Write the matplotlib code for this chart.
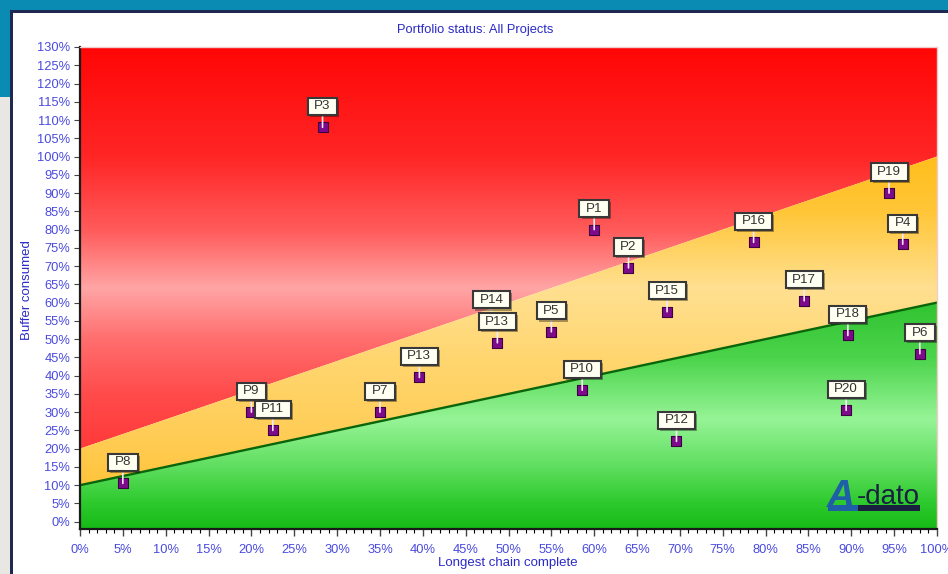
import numpy as np
import matplotlib
matplotlib.use("Agg")
import matplotlib.pyplot as plt
from matplotlib.patches import Rectangle
from matplotlib.path import Path
import matplotlib.patheffects as pe

plt.rcParams["font.family"] = ["Liberation Sans", "DejaVu Sans"]

W, H, DPI = 948, 574, 100

# Projects: longest chain complete (%) vs buffer consumed (%)
projects = ["P8", "P9", "P11", "P3", "P7", "P13", "P14", "P13", "P5", "P10",
            "P1", "P2", "P15", "P12", "P16", "P17", "P18", "P20", "P19", "P4", "P6"]
chain_done = [5.0, 20.0, 22.5, 28.3, 35.0, 39.6, 48.0, 48.7, 55.0, 58.6,
              60.0, 64.0, 68.5, 69.6, 78.6, 84.5, 89.6, 89.4, 94.4, 96.0, 98.0]
buffer_used = [10.5, 30.0, 25.0, 108.0, 30.0, 39.5, 55.0, 49.0, 52.0, 36.0,
               80.0, 69.5, 57.5, 22.0, 76.5, 60.5, 51.0, 30.5, 90.0, 76.0, 46.0]

# Zone boundaries of the fever chart
zone_x = [0, 100]
green_top = [10, 60]
yellow_top = [20, 100]
y_lo, y_hi = -2, 130

x_ticks = list(range(0, 101, 5))
y_ticks = list(range(0, 131, 5))

# Vertical colour stops (buffer %, rgb) for each zone
red_stops = [(130, (255, 6, 6)), (100, (255, 38, 38)), (80, (255, 90, 90)),
             (64, (255, 165, 165)), (50, (255, 110, 110)), (35, (255, 75, 75)),
             (18, (255, 55, 55))]
yellow_stops = [(100, (255, 190, 28)), (85, (255, 198, 55)), (64, (255, 224, 145)),
                (45, (255, 214, 112)), (25, (255, 206, 88)), (10, (255, 196, 60))]
green_stops = [(62, (45, 192, 45)), (45, (75, 212, 75)), (28, (150, 244, 150)),
               (15, (95, 222, 95)), (5, (45, 202, 45)), (-2, (22, 186, 22))]


def px_rect(x0, y0, x1, y1, color, z=5):
    return Rectangle((x0 / W, 1 - y1 / H), (x1 - x0) / W, (y1 - y0) / H,
                     transform=fig.transFigure, facecolor=color,
                     edgecolor="none", zorder=z)


def gradient(stops, n=600):
    ys = np.linspace(y_hi, y_lo, n)
    pos = np.array([s[0] for s in stops], float)
    cols = np.array([s[1] for s in stops], float) / 255.0
    order = np.argsort(pos)
    pos, cols = pos[order], cols[order]
    img = np.stack([np.interp(ys, pos, cols[:, k]) for k in range(3)], axis=-1)
    return img[:, None, :]


def zone(lower, upper, stops):
    band = ax.fill_between(zone_x, lower, upper, facecolor="none",
                           edgecolor="none", zorder=1)
    im = ax.imshow(gradient(stops), extent=(0, 100, y_lo, y_hi),
                   aspect="auto", interpolation="bilinear", zorder=1)
    im.set_clip_path(band.get_paths()[0], transform=ax.transData)


def label_box(x0, y0, width, height, mutation_size):
    padx, pady = 6.5, 2.6
    a, b = x0 - padx, y0 - pady
    c, d = x0 + width + padx, y0 + height + pady
    return Path([(a, b), (c, b), (c, d), (a, d), (a, b)], closed=True)


fig = plt.figure(figsize=(W / DPI, H / DPI), dpi=DPI, facecolor="white")

# Window frame
fig.add_artist(px_rect(0, 0, W, 10, "#0a8bb4"))
fig.add_artist(px_rect(0, 0, 10, 97, "#0a8bb4"))
fig.add_artist(px_rect(0, 97, 10, H, "#e9e7e3"))
fig.add_artist(px_rect(10, 10, 13, H, "#1e2850"))
fig.add_artist(px_rect(10, 10, W, 13, "#1e2850"))

ax = fig.add_axes([80 / W, 1 - 529 / H, (937 - 80) / W, (529 - 47) / H])

zone(yellow_top, [y_hi, y_hi], red_stops)
zone(green_top, yellow_top, yellow_stops)
zone([y_lo, y_lo], green_top, green_stops)
ax.plot(zone_x, green_top, color="#0b660b", lw=1.7, zorder=2)

ax.scatter(chain_done, buffer_used, marker="s", s=46, c="#7d0a8a",
           edgecolors="#3a0042", linewidths=0.8, zorder=4)

for name, x, y in zip(projects, chain_done, buffer_used):
    ann = ax.annotate(name, (x, y), xytext=(0, 21), textcoords="offset pixels",
                      ha="center", va="center", fontsize=9.6, color="#333333",
                      zorder=6,
                      bbox=dict(boxstyle=label_box, fc="#fffff2", ec="#383838", lw=1.5),
                      arrowprops=dict(arrowstyle="-", color="#f6e8f6", lw=1.2,
                                      shrinkA=0, shrinkB=0))
    ann.get_bbox_patch().set_path_effects(
        [pe.SimplePatchShadow(offset=(1.5, -1.5), shadow_rgbFace="k", alpha=0.35),
         pe.Normal()])

ax.set_xlim(0, 100)
ax.set_ylim(y_lo, y_hi)

tick_blue = "#4a4ae0"
ax.set_xticks(x_ticks)
ax.set_xticklabels([f"{v}%" for v in x_ticks])
ax.set_xticks(np.arange(0, 101, 1), minor=True)
ax.set_yticks(y_ticks)
ax.set_yticklabels([f"{v}%" for v in y_ticks])
ax.tick_params(axis="both", colors="#444444", labelcolor=tick_blue, labelsize=9.3)
ax.tick_params(axis="x", which="major", length=5, width=1, pad=6)
ax.tick_params(axis="x", which="minor", length=3, width=0.8)
ax.tick_params(axis="y", which="major", length=4, width=0.8, pad=3)

for side in ("left", "bottom"):
    ax.spines[side].set_color("#1a1a1a")
    ax.spines[side].set_linewidth(1.6)
for side in ("top", "right"):
    ax.spines[side].set_color("#f2cccc")
    ax.spines[side].set_linewidth(1.0)

fig.text(475 / W, 1 - 30 / H, "Portfolio status: All Projects", ha="center",
         va="center", fontsize=9.3, color="#2a2ac8")
fig.text(508 / W, 1 - 563 / H, "Longest chain complete", ha="center",
         va="center", fontsize=9.5, color="#2a2ac8")
fig.text(27 / W, 1 - 290 / H, "Buffer consumed", ha="center", va="center",
         rotation=90, fontsize=9.5, color="#2a2ac8")

# Company logo
fig.add_artist(px_rect(828, 505, 858, 511, "#1f5fa8", z=7))
fig.add_artist(px_rect(858, 505, 920, 511, "#1a2040", z=7))
fig.text(827 / W, 1 - 507 / H, "A", ha="left", va="baseline", fontsize=28,
         fontweight="bold", fontstyle="italic", color="#1f5fa8", zorder=8)
fig.text(857 / W, 1 - 504 / H, "-dato", ha="left", va="baseline", fontsize=20,
         color="#1a2040", zorder=8)

fig.savefig("out.png", dpi=DPI, facecolor="white")
